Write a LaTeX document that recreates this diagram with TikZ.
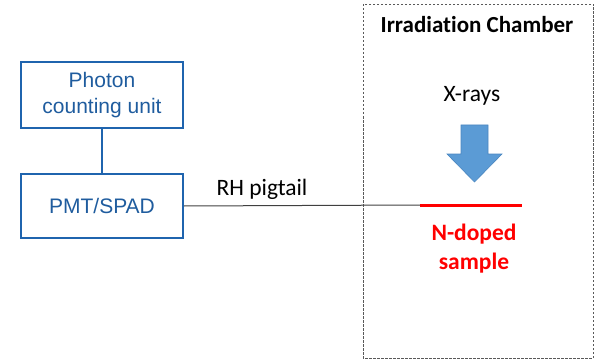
\documentclass[tikz,border=0pt]{standalone}
\usepackage{fontspec}
\setmainfont{Carlito}[Ligatures={NoCommon}]
\newfontfamily\arialf{Liberation Sans}
\definecolor{boxblue}{HTML}{1F64AE}
\definecolor{txtblue}{HTML}{1F5C9E}
\definecolor{arrowfill}{HTML}{5B9BD5}
\definecolor{arrowline}{HTML}{4A86C0}
\definecolor{samplered}{HTML}{FF0000}
\begin{document}
\begin{tikzpicture}[x=1pt,y=-1pt,
  unitbox/.style={draw=boxblue,line width=2pt,minimum width=162pt,inner sep=0pt,font=\arialf\fontsize{21}{25.5}\selectfont,text=txtblue,align=center},
  lbl/.style={font=\fontsize{23.5}{28}\selectfont,inner sep=0pt}]
\useasboundingbox (0,0) rectangle (595,361);
\node[unitbox,minimum height=65pt] (pcu) at (102,95) {Photon\\counting unit};
\node[unitbox,minimum height=64pt] (pmt) at (102,206) {PMT/SPAD};
\draw[boxblue,line width=1.2pt] (pcu.south) -- (pmt.north);
\draw[dashed,dash pattern=on 2.5pt off 1.5pt,gray!70!black,line width=0.8pt] (363,4) rectangle (593,358);
\node[lbl,font=\bfseries\fontsize{23}{28}\selectfont] (title) at (477,25) {Irradiation Chamber};
\node[lbl] (xr) at (472,96) {X-rays};
\coordinate (sl) at (420,205);
\coordinate (sr) at (522,205);
\draw[samplered,line width=3pt] (sl) -- (sr);
\draw[black!75,line width=1pt] (pmt.east) -- (sl);
\node[lbl,anchor=south] (rh) at (262,200) {RH pigtail};
\node[lbl,text=samplered,font=\bfseries\fontsize{23.5}{29}\selectfont,align=center,anchor=north] (ns) at (474,224) {N-doped\\sample};
\draw[fill=arrowfill,draw=arrowline,line width=0.6pt] (461,125) -- (488,125) -- (488,154) -- (502,154) -- (474.5,182) -- (447,154) -- (461,154) -- cycle;
\end{tikzpicture}
\end{document}
